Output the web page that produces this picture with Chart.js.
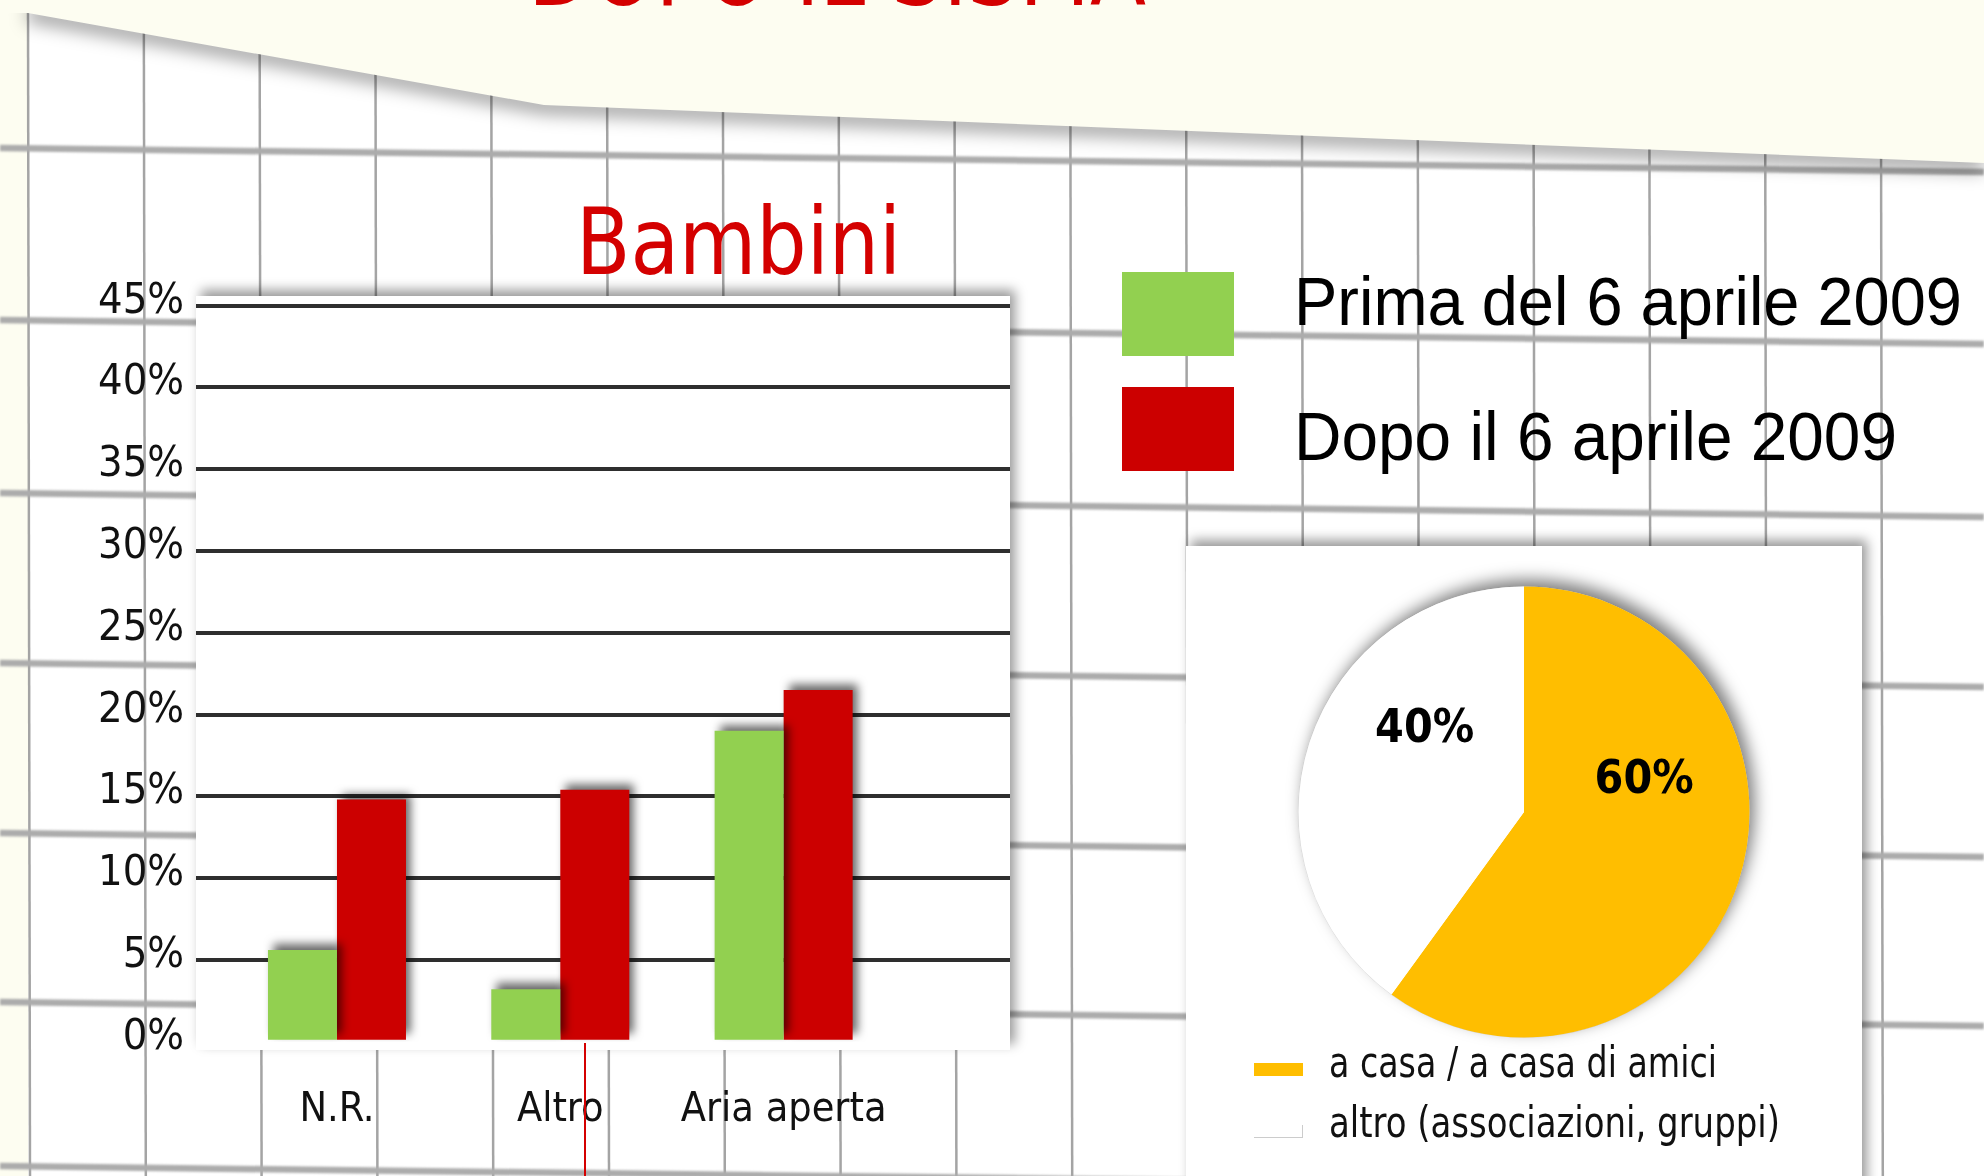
<!DOCTYPE html>
<html><head><meta charset="utf-8">
<script src="https://cdn.jsdelivr.net/npm/chart.js@4.4.0/dist/chart.umd.min.js"></script>
<style>
html,body{margin:0;padding:0;}
body{width:1984px;height:1176px;position:relative;overflow:hidden;background:#fdfdf1;font-family:'DejaVu Sans Condensed','Liberation Sans',sans-serif;color:#111;}
.abs{position:absolute;}
#paper{position:absolute;left:0;top:0;}
#barPanel{left:196px;top:296px;width:814px;height:754px;background:#fff;box-shadow:5px -6px 11px rgba(0,0,0,0.4);}
#barWrap{left:0;top:0;width:1100px;height:1176px;}
#piePanel{left:1186px;top:546px;width:676px;height:680px;background:#fff;box-shadow:5px -6px 11px rgba(0,0,0,0.4);}
#pieWrap{left:1186px;top:546px;width:676px;height:532px;}
.txt{position:absolute;white-space:nowrap;line-height:1;transform-origin:0 0;}
.sw{position:absolute;}
</style></head>
<body>
<svg id="paper" width="1984" height="1176"></svg>

<div class="txt fit" data-w="618" style="left:528px;top:-79px;font-size:100px;color:#d40000;">DOPO IL SISMA</div>

<div class="abs" id="barPanel"></div>
<div class="abs" id="barWrap"><canvas id="bar"></canvas></div>
<div class="abs" id="piePanel"></div>
<div class="abs" id="pieWrap"><canvas id="pie"></canvas></div>

<div class="txt fit" data-w="325" id="chartTitle" style="left:576px;top:196.3px;font-size:93px;color:#d40000;">Bambini</div>

<div class="sw" id="sw0" style="left:1122px;top:272px;width:112px;height:84px;"></div>
<div class="sw" id="sw1" style="left:1122px;top:387px;width:112px;height:84px;"></div>
<div class="txt fit" data-w="668" id="lg0" style="left:1294px;top:267.4px;font-size:68px;font-family:'Liberation Sans',sans-serif;color:#000;"></div>
<div class="txt fit" data-w="603" id="lg1" style="left:1294px;top:402.4px;font-size:68px;font-family:'Liberation Sans',sans-serif;color:#000;"></div>

<div class="sw" id="psw0" style="left:1254px;top:1063px;width:49px;height:13px;"></div>
<div class="sw" id="psw1" style="left:1254px;top:1125px;width:48px;height:12px;border-right:1px solid #ccc;border-bottom:1px solid #ccc;"></div>
<div class="txt fit" data-w="388" id="plg0" style="left:1329px;top:1042.2px;font-size:42px;"></div>
<div class="txt fit" data-w="451" id="plg1" style="left:1329px;top:1102.4px;font-size:42px;"></div>

<div class="abs" style="left:583.5px;top:1043px;width:2.5px;height:140px;background:#d40000;"></div>

<script>
// ---------- data ----------
const categories = ['N.R.', 'Altro', 'Aria aperta'];
const seriesNames = ['Prima del 6 aprile 2009', 'Dopo il 6 aprile 2009'];
const prima = [5.6, 3.2, 19.0];
const dopo = [14.8, 15.4, 21.5];
const yTickValues = [0, 5, 10, 15, 20, 25, 30, 35, 40, 45];
const pieLabels = ['a casa / a casa di amici', 'altro (associazioni, gruppi)'];
const pieValues = [60, 40];
const pieValueLabels = ['60%', '40%'];

// ---------- styles ----------
const GREEN = '#92d050', RED = '#cc0000', YELLOW = '#ffbe00', WHITE = '#ffffff';
const GRID = '#2e2e2e';

// ---------- background paper (decoration) ----------
(function(){
  const svg = document.getElementById('paper');
  let s = '<defs><clipPath id="pc"><polygon points="0,13 28,13 544,105 1984,163 1984,1176 0,1176"/></clipPath>' +
    '<filter id="b1"><feGaussianBlur stdDeviation="1.2"/></filter>' +
    '<filter id="b6" x="-5%" y="-50%" width="110%" height="200%"><feGaussianBlur stdDeviation="9"/></filter></defs>';
  s += '<polygon points="28,13 544,105 1984,163 1984,1176 28,1176" fill="#ffffff"/>';
  s += '<g clip-path="url(#pc)">';
  s += '<g stroke="#a4a4a4" stroke-width="2.5">';
  for (let k = 0; k < 18; k++) { const x = 28 + 115.8 * k; s += `<line x1="${x}" y1="0" x2="${x+2}" y2="1176"/>`; }
  s += '</g><g stroke="#acacac" stroke-width="6.5" filter="url(#b1)">';
  [148, 320, 493, 663, 833, 1002, 1166].forEach(y => { s += `<line x1="0" y1="${y}" x2="1984" y2="${y+24}"/>`; });
  s += '</g>';
  s += '<polyline points="28,13 544,105 1984,163" fill="none" stroke="rgba(0,0,0,0.4)" stroke-width="16" filter="url(#b6)"/>';
  s += '</g>';
  svg.innerHTML = s;
})();

// ---------- html legends ----------
document.getElementById('sw0').style.background = GREEN;
document.getElementById('sw1').style.background = RED;
document.getElementById('lg0').textContent = seriesNames[0];
document.getElementById('lg1').textContent = seriesNames[1];
document.getElementById('psw0').style.background = YELLOW;
document.getElementById('psw1').style.background = WHITE;
document.getElementById('plg0').textContent = pieLabels[0];
document.getElementById('plg1').textContent = pieLabels[1];
document.querySelectorAll('.fit').forEach(el => {
  const w = el.getBoundingClientRect().width;
  el.style.transform = `scaleX(${(+el.dataset.w) / w})`;
});

Chart.defaults.font.family = "'DejaVu Sans Condensed', 'Liberation Sans', sans-serif";
Chart.defaults.color = '#111';

const gridColor = ctx => (ctx.tick && ctx.tick.value === 0) ? 'rgba(0,0,0,0)' : GRID;

const barShadow = {
  id: 'barShadow',
  beforeDatasetsDraw(chart) {
    const c = chart.ctx; c.save();
    c.shadowColor = 'rgba(0,0,0,0.6)'; c.shadowBlur = 9; c.shadowOffsetX = 5; c.shadowOffsetY = -6;
  },
  afterDatasetsDraw(chart) { chart.ctx.restore(); }
};

new Chart(document.getElementById('bar'), {
  type: 'bar',
  data: {
    labels: categories,
    datasets: [
      { label: seriesNames[0], data: prima, backgroundColor: GREEN, borderWidth: 0 },
      { label: seriesNames[1], data: dopo, backgroundColor: RED, borderWidth: 0 }
    ]
  },
  options: {
    responsive: true, maintainAspectRatio: false, animation: false,
    datasets: { bar: { categoryPercentage: 0.618, barPercentage: 1 } },
    layout: { padding: { left: 0, right: 90, top: 305.5, bottom: 0 } },
    plugins: { legend: { display: false }, tooltip: { enabled: false } },
    scales: {
      x: {
        grid: { display: false, drawTicks: false }, border: { display: false },
        ticks: { font: { size: 41 }, color: '#111', padding: 44, maxRotation: 0, minRotation: 0, autoSkip: false },
        afterFit(a) { a.height = 134.3; }
      },
      y: {
        min: 0, max: 45,
        afterBuildTicks(a) { a.ticks = yTickValues.map(v => ({ value: v })); },
        ticks: { callback: v => v + '%', font: { size: 43 }, color: '#111', padding: 12, labelOffset: -4 },
        grid: { color: gridColor, lineWidth: 4, drawTicks: true, tickLength: 29.3 },
        border: { display: false },
        afterFit(a) { a.width = 225.3; }
      },
      y2: {
        position: 'right', min: 0, max: 45,
        afterBuildTicks(a) { a.ticks = yTickValues.map(v => ({ value: v })); },
        ticks: { display: false },
        grid: { color: gridColor, lineWidth: 4, drawOnChartArea: false, drawTicks: true, tickLength: 114.7 },
        border: { display: false },
        afterFit(a) { a.width = 114.7; }
      }
    }
  },
  plugins: [barShadow]
});

const pieDeco = {
  id: 'pieDeco',
  beforeDatasetsDraw(chart) {
    const a = chart.getDatasetMeta(0).data[0]; const c = chart.ctx;
    c.save();
    c.shadowColor = 'rgba(0,0,0,0.5)'; c.shadowBlur = 16; c.shadowOffsetX = 5; c.shadowOffsetY = -7;
    c.beginPath(); c.arc(a.x, a.y, a.outerRadius, 0, Math.PI * 2); c.fillStyle = '#fff'; c.fill();
    c.restore();
    c.save(); c.beginPath(); c.arc(a.x, a.y, a.outerRadius - 0.5, 0, Math.PI * 2);
    c.strokeStyle = 'rgba(0,0,0,0.12)'; c.lineWidth = 1.5; c.stroke(); c.restore();
  },
  afterDatasetsDraw(chart, args, opts) {
    const c = chart.ctx; const meta = chart.getDatasetMeta(0);
    c.save();
    c.font = 'bold 46px "DejaVu Sans Condensed", "Liberation Sans", sans-serif';
    c.fillStyle = '#000'; c.textAlign = 'center'; c.textBaseline = 'middle';
    meta.data.forEach((el, i) => {
      const an = opts.anchors[i];
      const ang = el.startAngle + an.t * (el.endAngle - el.startAngle);
      const r = el.outerRadius * an.r;
      c.fillText(pieValueLabels[i], el.x + Math.cos(ang) * r, el.y + Math.sin(ang) * r);
    });
    c.restore();
  }
};

new Chart(document.getElementById('pie'), {
  type: 'pie',
  data: { labels: pieLabels, datasets: [{ data: pieValues, backgroundColor: [YELLOW, WHITE], borderWidth: 0 }] },
  options: {
    responsive: true, maintainAspectRatio: false, animation: false,
    radius: 225.5,
    layout: { padding: 0 },
    plugins: { legend: { display: false }, tooltip: { enabled: false },
      pieDeco: { anchors: [{ t: 0.35, r: 0.55 }, { t: 0.65, r: 0.572 }] } }
  },
  plugins: [pieDeco]
});
</script>
</body></html>
